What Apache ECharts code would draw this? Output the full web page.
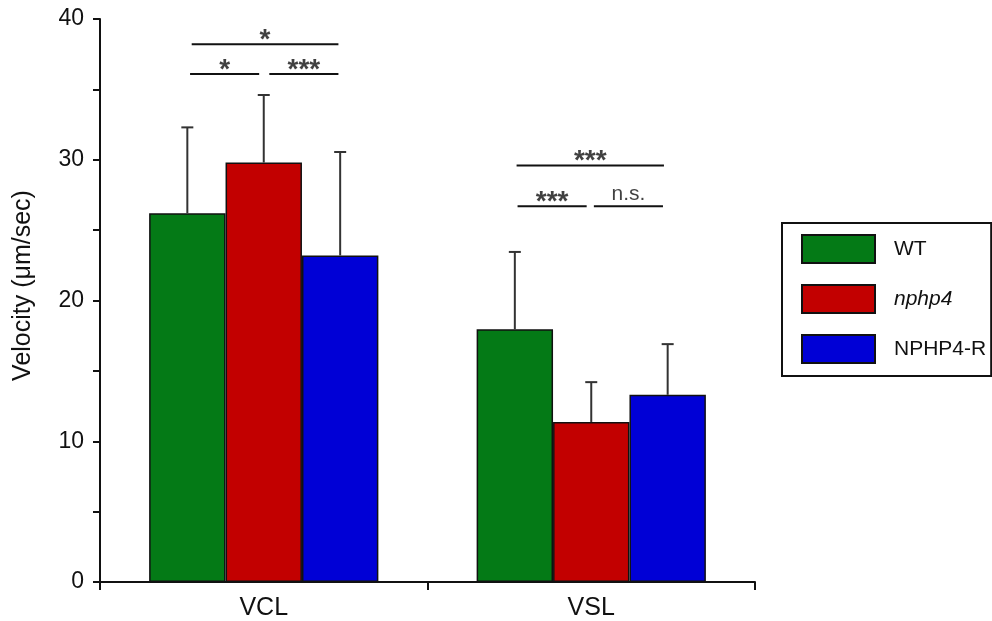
<!DOCTYPE html>
<html>
<head>
<meta charset="utf-8">
<script src="https://cdn.jsdelivr.net/npm/echarts@6/dist/echarts.min.js"></script>
<style>html,body{margin:0;padding:0;background:#fff;}#c{width:992px;height:621px;}</style>
</head>
<body>
<div id="c"></div>
<script>
var categories = ['VCL', 'VSL'];
var groupNames = ['WT', 'nphp4', 'NPHP4-R'];
var wtMean = [26.2, 17.95];
var wtSD = [6.1, 5.5];
var nphp4Mean = [29.8, 11.37];
var nphp4SD = [4.8, 2.83];
var rescueMean = [23.2, 13.3];
var rescueSD = [7.35, 3.6];
var yTicks = [0, 10, 20, 30, 40];

// significance brackets (x in category units, 0..2)
var sigX1 = [0.28, 0.275, 0.517, 1.272, 1.275, 1.508];
var sigX2 = [0.728, 0.486, 0.728, 1.722, 1.486, 1.719];
var sigY = [38.2, 36.1, 36.1, 29.6, 26.7, 26.7];
var sigText = ['*', '*', '***', '***', '***', 'n.s.'];

var colors = ['#047A16', '#C20000', '#0000D6'];
var means = [wtMean, nphp4Mean, rescueMean];
var sds = [wtSD, nphp4SD, rescueSD];
var CAT_GAP = 0.30;

var chart = echarts.init(document.getElementById('c'));
var series = [];
groupNames.forEach(function (g, gi) {
  series.push({
    name: g, type: 'bar', xAxisIndex: 0, yAxisIndex: 0,
    data: means[gi], barGap: '0%', barCategoryGap: (CAT_GAP * 100) + '%',
    itemStyle: { color: colors[gi], borderColor: '#111', borderWidth: 1.5 },
    z: 3
  });
});
groupNames.forEach(function (g, gi) {
  series.push({
    type: 'custom', xAxisIndex: 0, yAxisIndex: 0, z: 4, silent: true,
    data: categories.map(function (c, ci) { return [ci, means[gi][ci], means[gi][ci] + sds[gi][ci]]; }),
    renderItem: function (params, api) {
      var ci = api.value(0);
      var p0 = api.coord([ci, api.value(1)]);
      var p1 = api.coord([ci, api.value(2)]);
      var catW = api.size([1, 0])[0];
      var barW = catW * (1 - CAT_GAP) / 3;
      var x = p0[0] + (gi - 1) * barW;
      var st = { stroke: '#333', lineWidth: 2 };
      return { type: 'group', children: [
        { type: 'line', shape: { x1: x, y1: p0[1], x2: x, y2: p1[1] }, style: st },
        { type: 'line', shape: { x1: x - 6, y1: p1[1], x2: x + 6, y2: p1[1] }, style: st }
      ]};
    }
  });
});
sigText.forEach(function (t, i) {
  series.push({
    type: 'line', xAxisIndex: 1, yAxisIndex: 0, silent: true, symbol: 'none',
    lineStyle: { color: '#111', width: 2 },
    data: [[sigX1[i], sigY[i]], [sigX2[i], sigY[i]]], z: 5
  });
});
series.push({
  type: 'scatter', xAxisIndex: 1, yAxisIndex: 0, silent: true, symbolSize: 0,
  data: sigText.map(function (t, i) {
    var ns = t === 'n.s.';
    return { value: [(sigX1[i] + sigX2[i]) / 2, sigY[i]],
      label: { formatter: t, fontSize: ns ? 21 : 28, fontWeight: ns ? 'normal' : 'bold', offset: [0, ns ? -12 : -4] } };
  }),
  label: { show: true, position: 'inside', color: '#111', fontFamily: 'Liberation Sans, Arial, sans-serif' },
  z: 6
});

chart.setOption({
  animation: false,
  backgroundColor: '#fff',
  textStyle: { fontFamily: 'Liberation Sans, Arial, sans-serif' },
  grid: { left: 100, right: 237, top: 19, bottom: 39 },
  legend: {
    data: groupNames,
    left: 782, top: 223, orient: 'vertical',
    itemWidth: 73, itemHeight: 28, itemGap: 20,
    padding: [11, 5, 12, 19],
    borderColor: '#111', borderWidth: 2,
    icon: 'rect',
    textStyle: { fontSize: 21, color: '#111', padding: [0, 0, 0, 14], rich: { i: { fontStyle: 'italic', fontSize: 21, color: '#111' } } },
    formatter: function (n) { return n === 'nphp4' ? '{i|nphp4}' : n; }
  },
  xAxis: [{
    type: 'category', data: categories,
    axisLine: { lineStyle: { color: '#111', width: 2 } },
    axisTick: { show: true, length: 8, lineStyle: { color: '#111', width: 2 } },
    axisLabel: { fontSize: 25, color: '#111', margin: 14 }
  }, {
    type: 'value', min: 0, max: 2, show: false
  }],
  yAxis: {
    type: 'value', min: 0, max: 40, interval: 5,
    name: 'Velocity (\u03bcm/sec)', nameLocation: 'middle', nameGap: 64,
    nameTextStyle: { fontSize: 25, color: '#111', padding: [0, 0, 0, 30] },
    splitLine: { show: false },
    axisLine: { show: true, lineStyle: { color: '#111', width: 2 } },
    axisTick: { show: true, length: 7, lineStyle: { color: '#111', width: 2 } },
    axisLabel: { fontSize: 23, color: '#111', margin: 16,
      formatter: function (v) { return yTicks.indexOf(v) >= 0 ? String(v) : ''; } }
  },
  series: series
});
</script>
</body>
</html>
